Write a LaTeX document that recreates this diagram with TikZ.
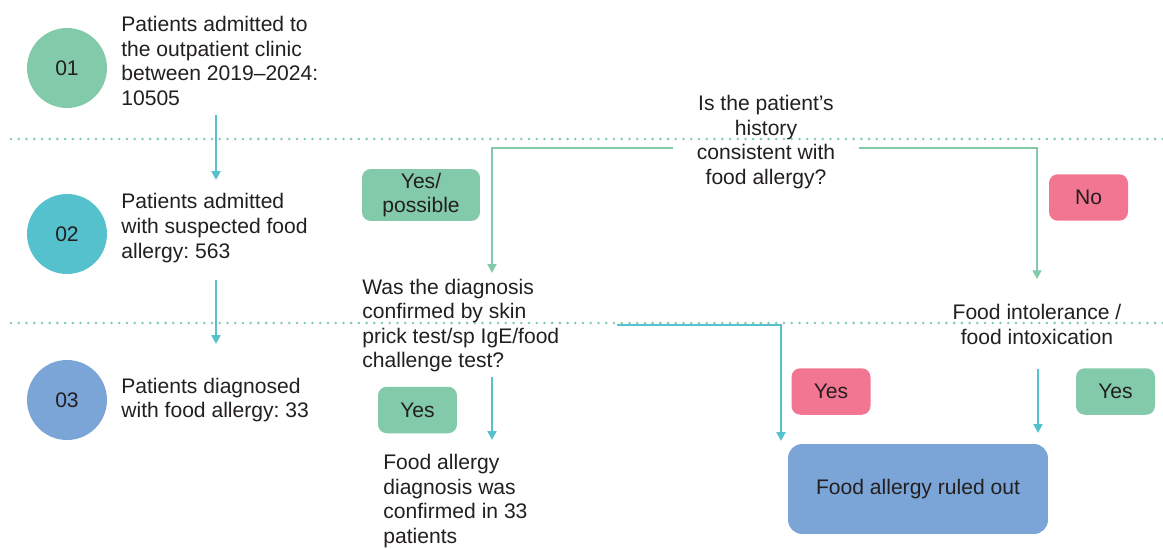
\documentclass[tikz,border=0pt]{standalone}
\usepackage{fontspec}
\setmainfont{Liberation Sans}
\usetikzlibrary{positioning,arrows.meta}
\definecolor{mint}{HTML}{82CAAA}
\definecolor{aqua}{HTML}{55C1CD}
\definecolor{azure}{HTML}{7BA4D7}
\definecolor{rose}{HTML}{F27691}
\definecolor{ink}{HTML}{231F20}
\frenchspacing

\begin{document}
\begin{tikzpicture}[x=0.02cm,y=-0.02cm,>={Triangle[length=5pt,width=5pt]},
  every node/.style={text=ink,font=\fontsize{12}{14}\selectfont},
  stage/.style={circle,minimum size=1.6cm,inner sep=0pt},
  note/.style={align=left,inner sep=0pt,anchor=west},
  tag/.style={rounded corners=5pt,inner sep=0pt,align=center,
              minimum width=1.58cm,minimum height=0.93cm},
  flow/.style={->,line width=1.25pt},
  sep/.style={mint,line width=1.6pt,line cap=round,dash pattern=on 0pt off 4.4pt}]
  \useasboundingbox (0,0) rectangle (1163,548);
  % dotted row separators
  \draw[sep] (11,139) -- (1163,139);
  \draw[sep] (11,323) -- (1163,323);
  % stages on the left
  \foreach \n/\y/\c in {01/68/mint,02/234/aqua,03/400/azure}
    \node[stage,fill=\c] (c\n) at (67,\y) {\n};
  \node[note] (t01) at (121,61) {Patients admitted to\\the outpatient clinic\\between 2019--2024:\\10505};
  \node[note] (t02) at (121,228) {Patients admitted\\with suspected food\\allergy: 563};
  \node[note] (t03) at (121,400) {Patients diagnosed\\with food allergy: 33};
  \coordinate (s1a) at (216,115); \coordinate (s1b) at (216,180);
  \coordinate (s2a) at (216,280); \coordinate (s2b) at (216,344);
  \draw[flow,aqua] (s1a) -- (s1b);
  \draw[flow,aqua] (s2a) -- (s2b);
  % history question
  \node[align=center,inner xsep=0.47cm,inner ysep=0pt] (q) at (766,142)
    {Is the patient’s\\history\\consistent with\\food allergy?};
  \node[tag,fill=mint,minimum width=2.36cm,minimum height=1.04cm] (yp) at (421,195) {Yes/\\possible};
  \node[tag,fill=rose] (no) at (1088.5,197.5) {No};
  % yes/possible branch
  \node[note] (was) at (362,325.5) {Was the diagnosis\\confirmed by skin\\prick test/sp IgE/food\\challenge test?};
  \coordinate (wasin) at (492,273);
  \draw[flow,mint] ([yshift=-0.12cm]q.west) -| (wasin);
  \node[tag,fill=mint] (y1) at (417.5,410) {Yes};
  \node[note] (conf) at (383,501) {Food allergy\\diagnosis was\\confirmed in 33\\patients};
  \coordinate (w1) at (492,377); \coordinate (w2) at (492,440);
  \draw[flow,aqua] (w1) -- (w2);
  \coordinate (w3) at (617,325); \coordinate (w4) at (781,441);
  \draw[flow,aqua] (w3) -| (w4);
  \node[tag,fill=rose] (y2) at (831,391.5) {Yes};
  % no branch
  \node[align=center,inner sep=0pt] (fi) at (1037,324.5) {Food intolerance /\\food intoxication};
  \draw[flow,mint] ([yshift=-0.12cm]q.east) -| ([yshift=0.5cm]fi.north);
  \node[tag,fill=mint] (y3) at (1115.5,391.5) {Yes};
  \coordinate (f1) at (1038,369); \coordinate (f2) at (1038,433);
  \draw[flow,aqua] (f1) -- (f2);
  % outcome
  \node[tag,fill=azure,rounded corners=8pt,minimum width=5.2cm,minimum height=1.8cm] (out) at (918,489) {Food allergy ruled out};
\end{tikzpicture}
\end{document}
